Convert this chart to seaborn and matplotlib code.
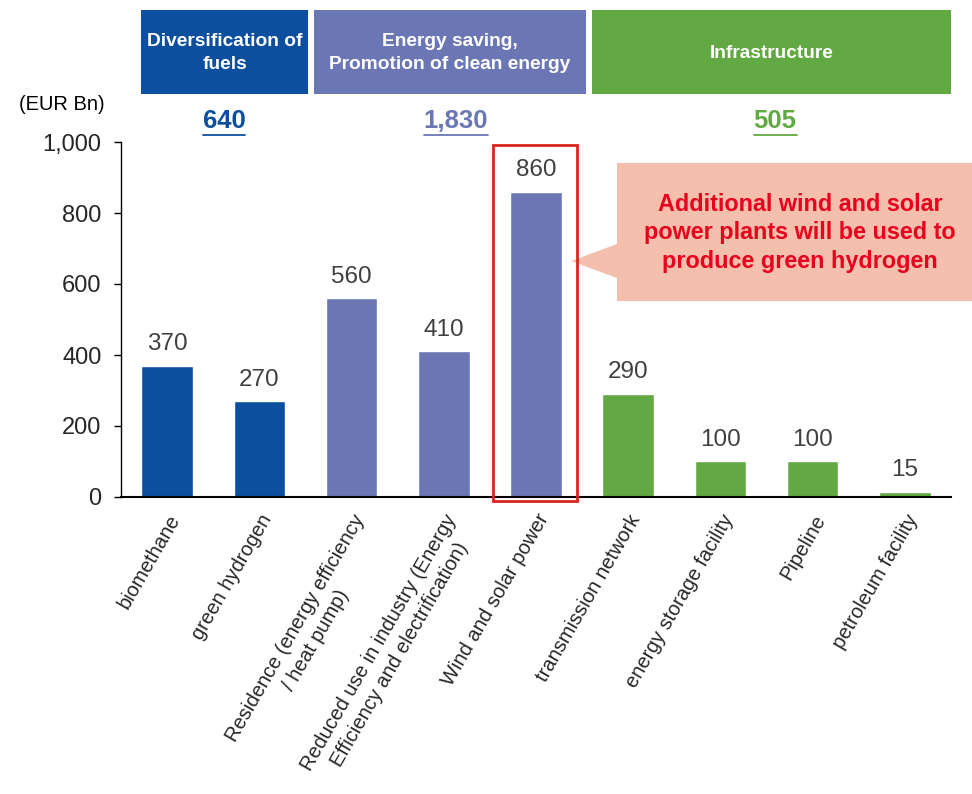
import matplotlib
matplotlib.use("Agg")
import matplotlib.pyplot as plt
import seaborn as sns
import pandas as pd
from matplotlib.patches import Rectangle, Polygon

categories = ["biomethane", "green hydrogen", "Residence (energy efficiency\n/ heat pump)",
              "Reduced use in industry (Energy\nEfficiency and electrification)",
              "Wind and solar power", "transmission network", "energy storage facility",
              "Pipeline", "petroleum facility"]
values = [370, 270, 560, 410, 860, 290, 100, 100, 15]
groups = ["fuel", "fuel", "save", "save", "save", "infra", "infra", "infra", "infra"]
group_names = ["Diversification of\nfuels", "Energy saving,\nPromotion of clean energy", "Infrastructure"]
group_totals = ["640", "1,830", "505"]
yticks = [0, 200, 400, 600, 800, 1000]
ytick_labels = ["0", "200", "400", "600", "800", "1,000"]
callout_text = "Additional wind and solar\npower plants will be used to\nproduce green hydrogen"

C_BLUE = "#0B4F9E"
C_PURPLE = "#6B77B5"
C_GREEN = "#62A843"
gcol = {"fuel": C_BLUE, "save": C_PURPLE, "infra": C_GREEN}

sns.set_theme(style="white")
plt.rcParams['font.family'] = ['Liberation Sans', 'DejaVu Sans']

W, H = 972, 794
fig = plt.figure(figsize=(W / 100, H / 100), dpi=100)
ax = fig.add_axes([121 / W, 1 - 497 / H, 830 / W, 355 / H])

df = pd.DataFrame({"cat": categories, "val": values, "grp": groups})
sns.barplot(data=df, x="cat", y="val", hue="cat",
            palette=[gcol[g] for g in groups], legend=False, width=0.56,
            saturation=1, ax=ax)

ax.set_xlim(-0.5, len(categories) - 0.5)
ax.set_ylim(0, 1000)
ax.set_yticks(yticks)
ax.set_yticklabels(ytick_labels, fontsize=17)
ax.set_xlabel("")
ax.set_ylabel("")
ax.set_xticks(range(len(categories)))
ax.set_xticklabels(categories, rotation=60, ha="right", rotation_mode="anchor",
                   fontsize=14.5, multialignment="center", linespacing=1.35)
ax.tick_params(axis="x", length=0, pad=10)
ax.tick_params(axis="y", direction="out", length=5, width=1, color="black", pad=9, left=True)
for s in ["top", "right"]:
    ax.spines[s].set_visible(False)
for s in ["left", "bottom"]:
    ax.spines[s].set_color("black")
ax.spines["left"].set_linewidth(1)
ax.spines["bottom"].set_linewidth(1.5)

for i, v in enumerate(values):
    ax.text(i, v + 30, f"{v}", ha="center", va="bottom", fontsize=17.5, color="#404040")

def px(x, y):
    return x / W, 1 - y / H

# red rectangle around wind bar
x0, y0 = px(493, 501)
fig.patches.append(Rectangle((x0, y0), (577 - 493) / W, (501 - 145) / H,
                             transform=fig.transFigure, fill=False,
                             edgecolor="#D7261E", linewidth=2, zorder=10))

# callout
pts = [px(617, 163), px(980, 163), px(980, 301), px(617, 301), px(617, 278),
       px(571, 261), px(617, 244)]
fig.patches.append(Polygon(pts, closed=True, transform=fig.transFigure,
                           facecolor="#F4BFAD", edgecolor="none", zorder=5))
fig.text(*px(800, 233), callout_text, ha="center", va="center", fontsize=16.8,
         fontweight="bold", color="#E8001C", linespacing=1.32, zorder=6)

# header boxes
boxes = [(141, 308), (314, 586), (592, 951)]
bcols = [C_BLUE, C_PURPLE, C_GREEN]
tot_x = [224, 456, 775]
for (bx0, bx1), col, name, tot, tx in zip(boxes, bcols, group_names, group_totals, tot_x):
    fig.patches.append(Rectangle(px(bx0, 94), (bx1 - bx0) / W, 84 / H,
                                 transform=fig.transFigure, facecolor=col,
                                 edgecolor="none"))
    fig.text(*px((bx0 + bx1) / 2, 53), name, ha="center", va="center", color="white",
             fontsize=13.8, fontweight="bold", linespacing=1.4)
    t = fig.text(*px(tx, 121), tot, ha="center", va="center", color=col,
                 fontsize=18.5, fontweight="bold")
    fig.canvas.draw()
    bb = t.get_window_extent()
    fig.add_artist(plt.Line2D([bb.x0 / W, bb.x1 / W], [(bb.y0 - 2) / H, (bb.y0 - 2) / H],
                              transform=fig.transFigure, color=col, linewidth=1.3))

fig.text(*px(62, 104), "(EUR Bn)", ha="center", va="center", fontsize=14.5, color="black")

fig.savefig("out.png", dpi=100)
